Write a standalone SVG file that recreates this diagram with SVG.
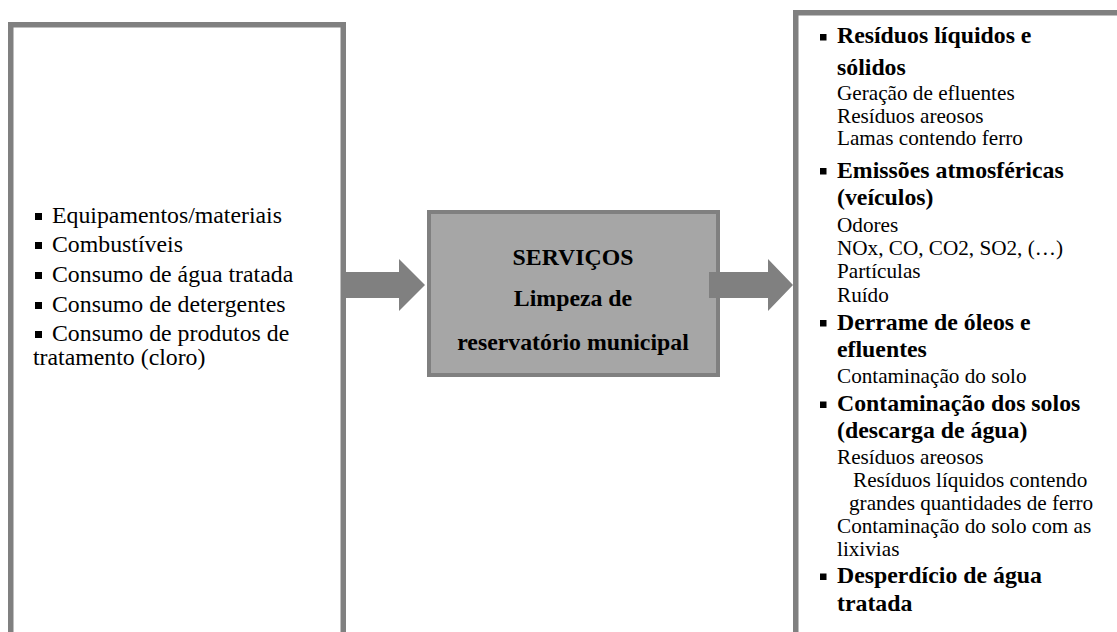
<svg xmlns="http://www.w3.org/2000/svg" width="1117" height="632" viewBox="0 0 1117 632">
<style>
.frame{fill:#ffffff;stroke:#808080;stroke-width:5.5}
.mid{fill:#a6a6a6;stroke:#808080;stroke-width:4}
text{font-family:'Liberation Serif','Times New Roman',serif;fill:#000}
.l{font-size:23.8px}
.h{font-size:23.8px;font-weight:bold}
.s{font-size:21.2px}
.b{fill:#000}
.arrow{fill:#808080}
</style>
<rect width="1117" height="632" fill="#ffffff"/>
<g id="inputs">
<rect class="frame" x="10.75" y="24.75" width="332.5" height="640"/>
<rect class="b" x="35" y="213" width="7" height="7"/>
<rect class="b" x="35" y="242" width="7" height="7"/>
<rect class="b" x="35" y="272" width="7" height="7"/>
<rect class="b" x="35" y="302" width="7" height="7"/>
<rect class="b" x="35" y="331" width="7" height="7"/>
<text class="l" x="52" y="223">Equipamentos/materiais</text>
<text class="l" x="52" y="252">Combustíveis</text>
<text class="l" x="52" y="282">Consumo de água tratada</text>
<text class="l" x="52" y="312">Consumo de detergentes</text>
<text class="l" x="52" y="341">Consumo de produtos de</text>
<text class="l" x="33" y="365">tratamento (cloro)</text>
</g>
<g id="service">
<rect class="mid" x="429" y="212" width="289" height="163"/>
<text class="h" x="573" y="265" text-anchor="middle">SERVIÇOS</text>
<text class="h" x="573" y="306" text-anchor="middle">Limpeza de</text>
<text class="h" x="573" y="350" text-anchor="middle">reservatório municipal</text>
</g>
<g id="outputs">
<rect class="frame" x="795.75" y="12.75" width="340" height="640"/>
<rect class="b" x="820" y="34" width="6.5" height="6.5"/>
<text class="h" x="837" y="43">Resíduos líquidos e</text>
<text class="h" x="837" y="74.5">sólidos</text>
<text class="s" x="837" y="100">Geração de efluentes</text>
<text class="s" x="837" y="122.5">Resíduos areosos</text>
<text class="s" x="837" y="145">Lamas contendo ferro</text>
<rect class="b" x="820" y="168" width="6.5" height="6.5"/>
<text class="h" x="837" y="177.5">Emissões atmosféricas</text>
<text class="h" x="837" y="204.5">(veículos)</text>
<text class="s" x="837" y="232">Odores</text>
<text class="s" x="837" y="255">NOx, CO, CO2, SO2, (…)</text>
<text class="s" x="837" y="278">Partículas</text>
<text class="s" x="837" y="302">Ruído</text>
<rect class="b" x="820" y="320" width="6.5" height="6.5"/>
<text class="h" x="837" y="329.5">Derrame de óleos e</text>
<text class="h" x="837" y="357">efluentes</text>
<text class="s" x="837" y="383">Contaminação do solo</text>
<rect class="b" x="820" y="401.5" width="6.5" height="6.5"/>
<text class="h" x="837" y="411">Contaminação dos solos</text>
<text class="h" x="837" y="438">(descarga de água)</text>
<text class="s" x="837" y="464">Resíduos areosos</text>
<text class="s" x="853" y="487">Resíduos líquidos contendo</text>
<text class="s" x="849" y="510">grandes quantidades de ferro</text>
<text class="s" x="837" y="533">Contaminação do solo com as</text>
<text class="s" x="837" y="556">lixivias</text>
<rect class="b" x="820" y="573.5" width="6.5" height="6.5"/>
<text class="h" x="837" y="583">Desperdício de água</text>
<text class="h" x="837" y="611">tratada</text>
</g>
<g id="connectors">
<polygon class="arrow" points="345,272 399,272 399,259 425,285 399,311 399,298 345,298"/>
<polygon class="arrow" points="709,272 768,272 768,259 793,285 768,311 768,298 709,298"/>
</g>
</svg>
